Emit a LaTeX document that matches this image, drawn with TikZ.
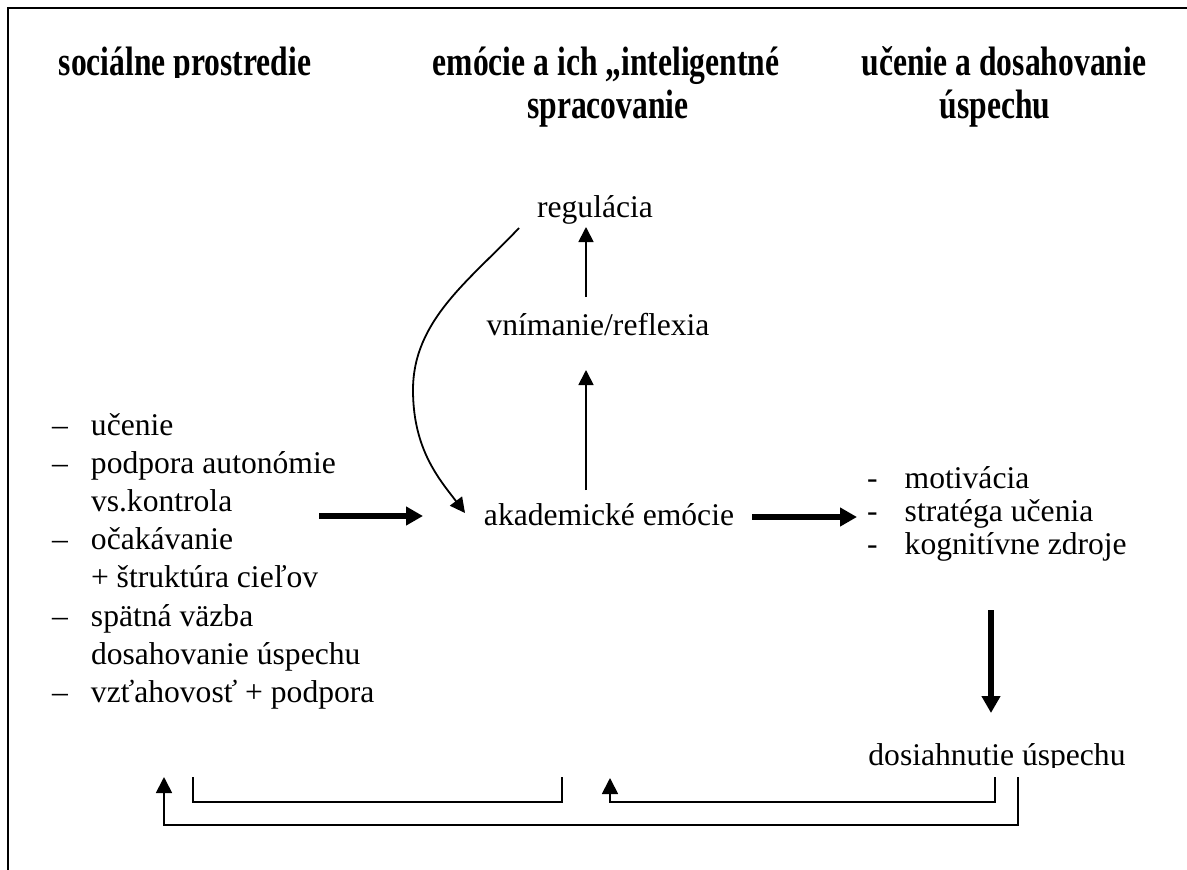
\documentclass[tikz,border=0pt]{standalone}
\usepackage{fontspec}
\setmainfont{Liberation Serif}
\usetikzlibrary{arrows.meta}
\newcommand{\tallhdr}[1]{\scalebox{1}[1.3]{#1}}
\begin{document}
\begin{tikzpicture}[x=1pt,y=-1pt,
  txt/.style={inner sep=0pt, font=\fontsize{31.6}{38.2}\selectfont},
  hdr/.style={inner sep=0pt, font=\fontsize{31.6}{43}\selectfont\bfseries},
  frameline/.style={line width=2.5pt},
  thinline/.style={line width=1.8pt},
  thinarrow/.style={line width=1.8pt, -{Triangle[length=15pt,width=15pt]}},
  thickarrow/.style={line width=6pt, -{Triangle[length=17pt,width=18pt]}},
  fbarrow/.style={line width=1.8pt, -{Triangle[length=16pt,width=16pt]}},
]
\useasboundingbox (0,0) rectangle (1187,870);
\fill[white] (0,0) rectangle (1187,870);
% frame
\draw[frameline] (8,870) -- (8,8) -- (1187,8);

% headers
\begin{scope}
\clip (0,0) rectangle (1187,77);
\node[hdr, anchor=base] (h1) at (185,75) {\tallhdr{sociálne prostredie}};
\end{scope}
\node[hdr, anchor=base] (h2a) at (606,75) {\tallhdr{emócie a ich „inteligentné}};
\node[hdr, anchor=base] (h2b) at (608,118) {\tallhdr{spracovanie}};
\node[hdr, anchor=base] (h3a) at (1004,75) {\tallhdr{učenie a dosahovanie}};
\node[hdr, anchor=base] (h3b) at (995,118) {\tallhdr{úspechu}};

% centre column
\node[txt, anchor=base] (reg) at (595,217) {regulácia};
\node[txt, anchor=base] (vnim) at (598,335) {vnímanie/reflexia};
\begin{scope}
\clip (0,0) rectangle (1187,527);
\node[txt, anchor=base] (akad) at (609,525) {akademické emócie};
\end{scope}
\begin{scope}
\clip (0,0) rectangle (1187,767);
\node[txt, anchor=base] (dos) at (997,765) {dosiahnutie úspechu};
\end{scope}

% left list
\node[txt, anchor=base west] (left) at (52,435) {\begin{tabular}[t]{@{}l@{\hspace{23pt}}l@{}}
–&učenie\\
–&podpora autonómie\\
&vs.kontrola\\
–&očakávanie\\
&+ štruktúra cieľov\\
–&spätná väzba\\
&dosahovanie úspechu\\
–&vzťahovosť + podpora
\end{tabular}};

% right list
\node[txt, anchor=base west, font=\fontsize{31.6}{33}\selectfont] (right) at (867,488) {\begin{tabular}[t]{@{}l@{\hspace{27pt}}l@{}}
-&motivácia\\
-&stratéga učenia\\
-&kognitívne zdroje
\end{tabular}};

% connector end points
\coordinate (akadTop) at (586,490);
\coordinate (vnimBot) at (586,370);
\coordinate (vnimTop) at (586,297);
\coordinate (regBot) at (586,227);
\coordinate (regL) at (519,228);
\coordinate (akadL) at (465,513);
\coordinate (leftR) at (319,516);
\coordinate (akadW) at (423,516);
\coordinate (akadE) at (752,517);
\coordinate (rightW) at (857,517);
\coordinate (rightBot) at (991,610);
\coordinate (dosTop) at (991,713);

% arrows
\draw[thinarrow] (akadTop) -- (vnimBot);
\draw[thinarrow] (vnimTop) -- (regBot);
\draw[thinarrow] (regL) .. controls (470,280) and (413,320) .. (413,390)
                        .. controls (413,450) and (440,480) .. (akadL);
\draw[thickarrow] (leftR) -- (akadW);
\draw[thickarrow] (akadE) -- (rightW);
\draw[thickarrow] (rightBot) -- (dosTop);

% feedback connectors
\coordinate (dosB1) at (995,777);
\coordinate (akadFb) at (610,778);
\coordinate (dosB2) at (1018,777);
\coordinate (leftFb) at (164,777);
\coordinate (brL) at (193,777);
\coordinate (brR) at (562,777);
\draw[fbarrow] (dosB1) -- (995,802) -- (610,802) -- (akadFb);
\draw[fbarrow] (dosB2) -- (1018,825) -- (164,825) -- (leftFb);
\draw[thinline] (brL) -- (193,802) -- (562,802) -- (brR);
\end{tikzpicture}
\end{document}
